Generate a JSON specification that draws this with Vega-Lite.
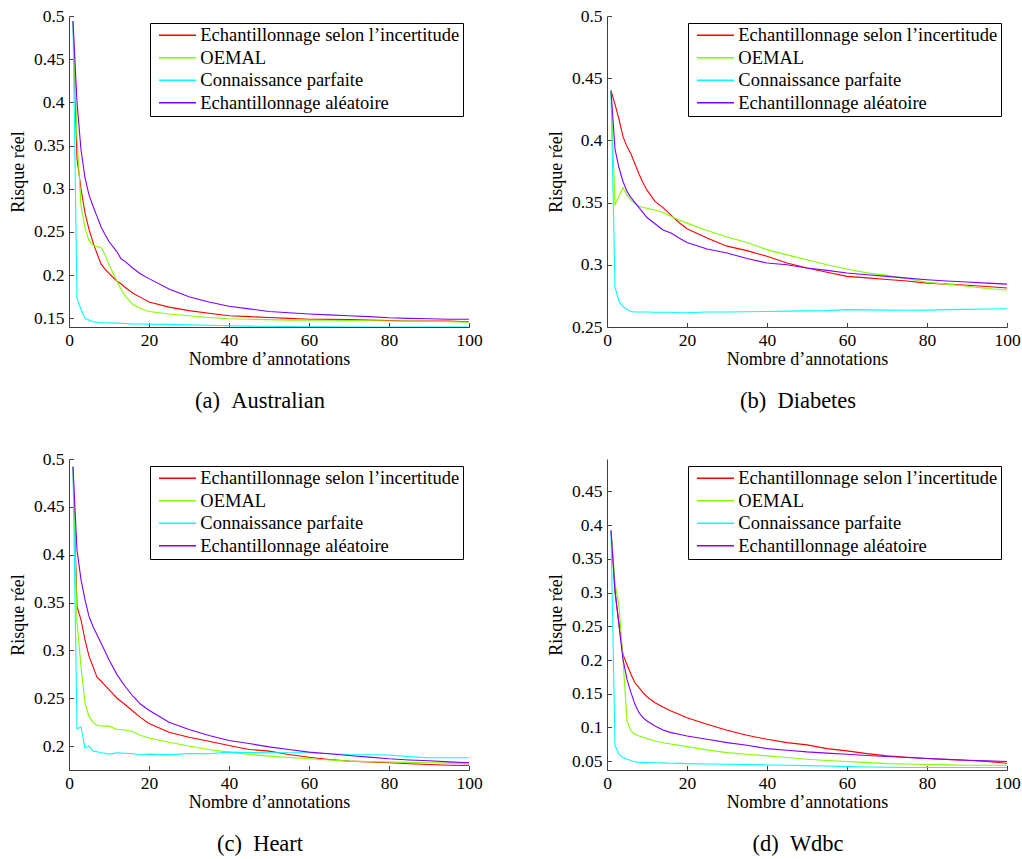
{
  "$schema": "https://vega.github.io/schema/vega-lite/v6.json",
  "background": "white",
  "padding": {"left": 9, "top": 7, "right": 0, "bottom": 0},
  "datasets": {
    "a": [
      {"x":1,"u":0.494,"o":0.494,"c":0.494,"r":0.494},
      {"x":2,"u":0.335,"o":0.36,"c":0.173,"r":0.40},
      {"x":3,"u":0.300,"o":0.280,"c":0.160,"r":0.345},
      {"x":4,"u":0.272,"o":0.255,"c":0.150,"r":0.313},
      {"x":5,"u":0.253,"o":0.240,"c":0.148,"r":0.293},
      {"x":6,"u":0.238,"o":0.235,"c":0.146,"r":0.280},
      {"x":7,"u":0.225,"o":0.233,"c":0.1455,"r":0.268},
      {"x":8,"u":0.213,"o":0.232,"c":0.145,"r":0.256},
      {"x":9,"u":0.207,"o":0.224,"c":0.145,"r":0.247},
      {"x":10,"u":0.202,"o":0.212,"c":0.1448,"r":0.239},
      {"x":12,"u":0.193,"o":0.193,"c":0.1445,"r":0.227},
      {"x":13,"u":0.190,"o":0.184,"c":0.1443,"r":0.219},
      {"x":14,"u":0.186,"o":0.176,"c":0.144,"r":0.216},
      {"x":16,"u":0.179,"o":0.166,"c":0.1435,"r":0.208},
      {"x":18,"u":0.174,"o":0.161,"c":0.1435,"r":0.201},
      {"x":20,"u":0.169,"o":0.158,"c":0.1432,"r":0.196},
      {"x":25,"u":0.163,"o":0.155,"c":0.143,"r":0.184},
      {"x":30,"u":0.159,"o":0.153,"c":0.1425,"r":0.175},
      {"x":35,"u":0.156,"o":0.151,"c":0.142,"r":0.169},
      {"x":40,"u":0.153,"o":0.1495,"c":0.1415,"r":0.164},
      {"x":45,"u":0.152,"o":0.149,"c":0.141,"r":0.161},
      {"x":50,"u":0.151,"o":0.1485,"c":0.1408,"r":0.158},
      {"x":55,"u":0.150,"o":0.148,"c":0.1405,"r":0.1565},
      {"x":60,"u":0.149,"o":0.148,"c":0.1402,"r":0.155},
      {"x":65,"u":0.1488,"o":0.1478,"c":0.1402,"r":0.154},
      {"x":70,"u":0.1485,"o":0.1475,"c":0.140,"r":0.153},
      {"x":75,"u":0.148,"o":0.1473,"c":0.140,"r":0.152},
      {"x":80,"u":0.1475,"o":0.147,"c":0.140,"r":0.1507},
      {"x":85,"u":0.147,"o":0.1468,"c":0.140,"r":0.150},
      {"x":90,"u":0.147,"o":0.1465,"c":0.140,"r":0.1495},
      {"x":95,"u":0.147,"o":0.146,"c":0.140,"r":0.149},
      {"x":100,"u":0.146,"o":0.1455,"c":0.140,"r":0.149}
    ],
    "b": [
      {"x":1,"u":0.44,"o":0.44,"c":0.44,"r":0.44},
      {"x":2,"u":0.429,"o":0.348,"c":0.282,"r":0.393},
      {"x":3,"u":0.417,"o":0.355,"c":0.2706,"r":0.378},
      {"x":4,"u":0.403,"o":0.362,"c":0.2666,"r":0.367},
      {"x":5,"u":0.395,"o":0.356,"c":0.264,"r":0.359},
      {"x":6,"u":0.389,"o":0.352,"c":0.2625,"r":0.354},
      {"x":7,"u":0.381,"o":0.349,"c":0.262,"r":0.350},
      {"x":8,"u":0.373,"o":0.347,"c":0.262,"r":0.346},
      {"x":9,"u":0.366,"o":0.346,"c":0.262,"r":0.342},
      {"x":10,"u":0.360,"o":0.3455,"c":0.262,"r":0.338},
      {"x":12,"u":0.351,"o":0.344,"c":0.2618,"r":0.333},
      {"x":14,"u":0.346,"o":0.342,"c":0.2618,"r":0.328},
      {"x":16,"u":0.340,"o":0.339,"c":0.2618,"r":0.3256},
      {"x":18,"u":0.334,"o":0.336,"c":0.2615,"r":0.3216},
      {"x":20,"u":0.329,"o":0.3335,"c":0.2615,"r":0.318},
      {"x":25,"u":0.3215,"o":0.3275,"c":0.262,"r":0.3127},
      {"x":30,"u":0.315,"o":0.3223,"c":0.262,"r":0.3095},
      {"x":35,"u":0.3114,"o":0.318,"c":0.2622,"r":0.305},
      {"x":40,"u":0.3068,"o":0.3122,"c":0.2625,"r":0.3014},
      {"x":45,"u":0.3014,"o":0.308,"c":0.2628,"r":0.300},
      {"x":50,"u":0.2974,"o":0.304,"c":0.263,"r":0.2974},
      {"x":55,"u":0.294,"o":0.300,"c":0.2632,"r":0.2955},
      {"x":60,"u":0.2907,"o":0.2966,"c":0.264,"r":0.2934},
      {"x":65,"u":0.2895,"o":0.2935,"c":0.2638,"r":0.292},
      {"x":70,"u":0.2882,"o":0.2915,"c":0.2636,"r":0.2907},
      {"x":75,"u":0.287,"o":0.289,"c":0.2635,"r":0.2893},
      {"x":80,"u":0.2853,"o":0.2859,"c":0.2636,"r":0.288},
      {"x":85,"u":0.2845,"o":0.2845,"c":0.264,"r":0.287},
      {"x":90,"u":0.2835,"o":0.2827,"c":0.2642,"r":0.2862},
      {"x":95,"u":0.2825,"o":0.281,"c":0.2645,"r":0.2853},
      {"x":100,"u":0.2813,"o":0.2797,"c":0.2647,"r":0.2845}
    ],
    "c": [
      {"x":1,"u":0.492,"o":0.492,"c":0.492,"r":0.492},
      {"x":2,"u":0.346,"o":0.33,"c":0.218,"r":0.405},
      {"x":3,"u":0.332,"o":0.283,"c":0.22,"r":0.374},
      {"x":4,"u":0.311,"o":0.245,"c":0.198,"r":0.353},
      {"x":5,"u":0.294,"o":0.231,"c":0.2,"r":0.3355},
      {"x":6,"u":0.283,"o":0.225,"c":0.1947,"r":0.325},
      {"x":7,"u":0.272,"o":0.2215,"c":0.194,"r":0.3164},
      {"x":8,"u":0.268,"o":0.221,"c":0.193,"r":0.3077},
      {"x":9,"u":0.2635,"o":0.2208,"c":0.1925,"r":0.299},
      {"x":10,"u":0.259,"o":0.2208,"c":0.1916,"r":0.2903},
      {"x":12,"u":0.250,"o":0.2173,"c":0.193,"r":0.2747},
      {"x":14,"u":0.2434,"o":0.2168,"c":0.1925,"r":0.2625},
      {"x":16,"u":0.2364,"o":0.215,"c":0.192,"r":0.2521},
      {"x":18,"u":0.2295,"o":0.211,"c":0.191,"r":0.2434},
      {"x":20,"u":0.2236,"o":0.2085,"c":0.1916,"r":0.2375},
      {"x":25,"u":0.2145,"o":0.204,"c":0.1908,"r":0.225},
      {"x":30,"u":0.2093,"o":0.2,"c":0.1923,"r":0.2173},
      {"x":35,"u":0.205,"o":0.1965,"c":0.192,"r":0.2111},
      {"x":40,"u":0.2006,"o":0.1937,"c":0.1937,"r":0.2058},
      {"x":45,"u":0.1965,"o":0.1912,"c":0.1932,"r":0.2027},
      {"x":50,"u":0.1947,"o":0.1895,"c":0.193,"r":0.1992},
      {"x":55,"u":0.1912,"o":0.188,"c":0.193,"r":0.1965},
      {"x":60,"u":0.1884,"o":0.1867,"c":0.193,"r":0.1937},
      {"x":65,"u":0.186,"o":0.1855,"c":0.192,"r":0.192},
      {"x":70,"u":0.1843,"o":0.1843,"c":0.1912,"r":0.1902},
      {"x":75,"u":0.1835,"o":0.1838,"c":0.191,"r":0.1885},
      {"x":80,"u":0.1825,"o":0.1833,"c":0.1906,"r":0.1867},
      {"x":85,"u":0.1815,"o":0.183,"c":0.189,"r":0.1855},
      {"x":90,"u":0.1808,"o":0.1825,"c":0.1878,"r":0.1846},
      {"x":95,"u":0.180,"o":0.1822,"c":0.1878,"r":0.1835},
      {"x":100,"u":0.1798,"o":0.1819,"c":0.1878,"r":0.1825}
    ],
    "d": [
      {"x":1,"u":0.392,"o":0.392,"c":0.392,"r":0.392},
      {"x":2,"u":0.300,"o":0.314,"c":0.073,"r":0.304},
      {"x":3,"u":0.255,"o":0.280,"c":0.060,"r":0.250},
      {"x":4,"u":0.208,"o":0.200,"c":0.0554,"r":0.2009},
      {"x":5,"u":0.1935,"o":0.110,"c":0.053,"r":0.1713},
      {"x":6,"u":0.1787,"o":0.095,"c":0.051,"r":0.1516},
      {"x":7,"u":0.1663,"o":0.090,"c":0.049,"r":0.1343},
      {"x":8,"u":0.159,"o":0.0875,"c":0.0485,"r":0.122},
      {"x":9,"u":0.1516,"o":0.0855,"c":0.048,"r":0.1146},
      {"x":10,"u":0.1456,"o":0.0835,"c":0.048,"r":0.1097},
      {"x":12,"u":0.1368,"o":0.080,"c":0.0478,"r":0.1023},
      {"x":14,"u":0.1304,"o":0.0775,"c":0.0475,"r":0.0963},
      {"x":16,"u":0.1244,"o":0.0755,"c":0.047,"r":0.0924},
      {"x":18,"u":0.1195,"o":0.0735,"c":0.0468,"r":0.0899},
      {"x":20,"u":0.1146,"o":0.0717,"c":0.0465,"r":0.0875},
      {"x":25,"u":0.1047,"o":0.0668,"c":0.046,"r":0.0825},
      {"x":30,"u":0.0958,"o":0.0628,"c":0.0455,"r":0.0776},
      {"x":35,"u":0.0885,"o":0.0604,"c":0.045,"r":0.0737},
      {"x":40,"u":0.0825,"o":0.0579,"c":0.0445,"r":0.0687},
      {"x":45,"u":0.0776,"o":0.0555,"c":0.044,"r":0.0663},
      {"x":50,"u":0.0742,"o":0.053,"c":0.0435,"r":0.0638},
      {"x":55,"u":0.0687,"o":0.051,"c":0.043,"r":0.062},
      {"x":60,"u":0.0653,"o":0.0495,"c":0.042,"r":0.0604},
      {"x":65,"u":0.0613,"o":0.048,"c":0.0415,"r":0.0585},
      {"x":70,"u":0.0579,"o":0.0465,"c":0.041,"r":0.0569},
      {"x":75,"u":0.056,"o":0.0458,"c":0.0408,"r":0.0555},
      {"x":80,"u":0.054,"o":0.0451,"c":0.0406,"r":0.054},
      {"x":85,"u":0.0525,"o":0.0446,"c":0.0406,"r":0.0527},
      {"x":90,"u":0.0515,"o":0.0441,"c":0.0406,"r":0.0515},
      {"x":95,"u":0.0495,"o":0.0441,"c":0.0406,"r":0.0505},
      {"x":100,"u":0.047,"o":0.0441,"c":0.0406,"r":0.0495}
    ]
  },
  "columns": 2,
  "spacing": {"row": 132, "column": 138},
  "bounds": "flush",
  "resolve": {"scale": {"color": "independent"}, "legend": {"color": "independent"}},
  "concat": [
    {
      "data": {"name": "a"},
      "width": 400, "height": 311,
      "title": {"text": "(a)\u2002Australian"},
      "transform": [{"fold": ["u","o","c","r"], "as": ["s","y"]}],
      "mark": {"type": "line", "strokeWidth": 1.1, "clip": true},
      "encoding": {
        "x": {"field": "x", "type": "quantitative", "scale": {"domain": [0, 100]}, "axis": {"values": [0,20,40,60,80,100], "title": "Nombre d’annotations"}},
        "y": {"field": "y", "type": "quantitative", "scale": {"domain": [0.14, 0.5], "zero": false}, "axis": {"values": [0.15,0.2,0.25,0.3,0.35,0.4,0.45,0.5], "title": "Risque réel"}},
        "color": {"field": "s", "type": "nominal", "scale": {"domain": ["u","o","c","r"], "range": ["#ff0000","#80ff00","#00ffff","#8000ff"]},
          "legend": {"orient": "top-right", "offset": 6.5, "title": null, "symbolType": "M-0.394,0L4.093,0", "symbolSize": 272, "symbolStrokeWidth": 1.4, "symbolOpacity": 1, "labelFont": "Liberation Serif", "labelFontSize": 18.5, "labelColor": "black", "labelLimit": 0, "labelOffset": 28.8, "strokeColor": "black", "fillColor": "white", "padding": 3, "rowPadding": 3.5,
            "labelExpr": "datum.label == 'u' ? 'Echantillonnage selon l’incertitude' : datum.label == 'o' ? 'OEMAL' : datum.label == 'c' ? 'Connaissance parfaite' : 'Echantillonnage aléatoire'"}}
      }
    },
    {
      "data": {"name": "b"},
      "width": 400, "height": 311,
      "title": {"text": "(b)\u2002Diabetes"},
      "transform": [{"fold": ["u","o","c","r"], "as": ["s","y"]}],
      "mark": {"type": "line", "strokeWidth": 1.1, "clip": true},
      "encoding": {
        "x": {"field": "x", "type": "quantitative", "scale": {"domain": [0, 100]}, "axis": {"values": [0,20,40,60,80,100], "title": "Nombre d’annotations"}},
        "y": {"field": "y", "type": "quantitative", "scale": {"domain": [0.25, 0.5], "zero": false}, "axis": {"values": [0.25,0.3,0.35,0.4,0.45,0.5], "title": "Risque réel"}},
        "color": {"field": "s", "type": "nominal", "scale": {"domain": ["u","o","c","r"], "range": ["#ff0000","#80ff00","#00ffff","#8000ff"]},
          "legend": {"orient": "top-right", "offset": 6.5, "title": null, "symbolType": "M-0.394,0L4.093,0", "symbolSize": 272, "symbolStrokeWidth": 1.4, "symbolOpacity": 1, "labelFont": "Liberation Serif", "labelFontSize": 18.5, "labelColor": "black", "labelLimit": 0, "labelOffset": 28.8, "strokeColor": "black", "fillColor": "white", "padding": 3, "rowPadding": 3.5,
            "labelExpr": "datum.label == 'u' ? 'Echantillonnage selon l’incertitude' : datum.label == 'o' ? 'OEMAL' : datum.label == 'c' ? 'Connaissance parfaite' : 'Echantillonnage aléatoire'"}}
      }
    },
    {
      "data": {"name": "c"},
      "width": 400, "height": 311,
      "title": {"text": "(c)\u2002Heart"},
      "transform": [{"fold": ["u","o","c","r"], "as": ["s","y"]}],
      "mark": {"type": "line", "strokeWidth": 1.1, "clip": true},
      "encoding": {
        "x": {"field": "x", "type": "quantitative", "scale": {"domain": [0, 100]}, "axis": {"values": [0,20,40,60,80,100], "title": "Nombre d’annotations"}},
        "y": {"field": "y", "type": "quantitative", "scale": {"domain": [0.175, 0.5], "zero": false}, "axis": {"values": [0.2,0.25,0.3,0.35,0.4,0.45,0.5], "title": "Risque réel"}},
        "color": {"field": "s", "type": "nominal", "scale": {"domain": ["u","o","c","r"], "range": ["#ff0000","#80ff00","#00ffff","#8000ff"]},
          "legend": {"orient": "top-right", "offset": 6.5, "title": null, "symbolType": "M-0.394,0L4.093,0", "symbolSize": 272, "symbolStrokeWidth": 1.4, "symbolOpacity": 1, "labelFont": "Liberation Serif", "labelFontSize": 18.5, "labelColor": "black", "labelLimit": 0, "labelOffset": 28.8, "strokeColor": "black", "fillColor": "white", "padding": 3, "rowPadding": 3.5,
            "labelExpr": "datum.label == 'u' ? 'Echantillonnage selon l’incertitude' : datum.label == 'o' ? 'OEMAL' : datum.label == 'c' ? 'Connaissance parfaite' : 'Echantillonnage aléatoire'"}}
      }
    },
    {
      "data": {"name": "d"},
      "width": 400, "height": 311,
      "title": {"text": "(d)\u2002Wdbc"},
      "transform": [{"fold": ["u","o","c","r"], "as": ["s","y"]}],
      "mark": {"type": "line", "strokeWidth": 1.1, "clip": true},
      "encoding": {
        "x": {"field": "x", "type": "quantitative", "scale": {"domain": [0, 100]}, "axis": {"values": [0,20,40,60,80,100], "title": "Nombre d’annotations"}},
        "y": {"field": "y", "type": "quantitative", "scale": {"domain": [0.037, 0.498], "zero": false}, "axis": {"values": [0.05,0.1,0.15,0.2,0.25,0.3,0.35,0.4,0.45], "title": "Risque réel"}},
        "color": {"field": "s", "type": "nominal", "scale": {"domain": ["u","o","c","r"], "range": ["#ff0000","#80ff00","#00ffff","#8000ff"]},
          "legend": {"orient": "top-right", "offset": 6.5, "title": null, "symbolType": "M-0.394,0L4.093,0", "symbolSize": 272, "symbolStrokeWidth": 1.4, "symbolOpacity": 1, "labelFont": "Liberation Serif", "labelFontSize": 18.5, "labelColor": "black", "labelLimit": 0, "labelOffset": 28.8, "strokeColor": "black", "fillColor": "white", "padding": 3, "rowPadding": 3.5,
            "labelExpr": "datum.label == 'u' ? 'Echantillonnage selon l’incertitude' : datum.label == 'o' ? 'OEMAL' : datum.label == 'c' ? 'Connaissance parfaite' : 'Echantillonnage aléatoire'"}}
      }
    }
  ],
  "config": {
    "view": {"stroke": null},
    "font": "Liberation Serif",
    "title": {"orient": "bottom", "anchor": "middle", "frame": "group", "font": "Liberation Serif", "fontSize": 22.5, "fontWeight": "normal", "color": "black", "baseline": "alphabetic", "offset": 21, "dx": -9},
    "axis": {
      "grid": false,
      "domainColor": "#404040", "domainWidth": 1,
      "tickColor": "#404040", "tickWidth": 1, "tickSize": -4.5,
      "labelFont": "Liberation Serif", "labelFontSize": 17.5, "labelColor": "black",
      "labelFlush": false, "labelOverlap": false, "format": "~r",
      "titleFont": "Liberation Serif", "titleFontSize": 18, "titleFontWeight": "normal", "titleColor": "black"
    },
    "axisX": {"labelPadding": 8.8, "titlePadding": 2},
    "axisY": {"labelPadding": 9.5, "titlePadding": 6}
  }
}
